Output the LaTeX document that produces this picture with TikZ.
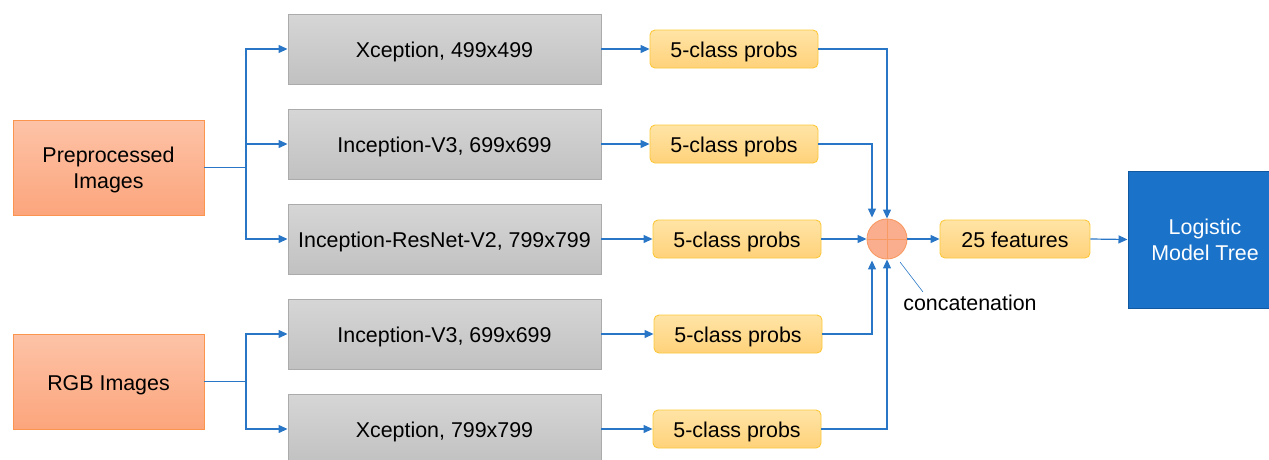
\documentclass[tikz,border=0pt]{standalone}
\usepackage{fontspec}
\setmainfont{Liberation Sans}
\usetikzlibrary{arrows.meta,calc}
\definecolor{arrowblue}{HTML}{2A76C6}
\definecolor{graytop}{HTML}{D6D6D6}
\definecolor{graybot}{HTML}{C1C1C1}
\definecolor{grayline}{HTML}{ABABAB}
\definecolor{orgtop}{HTML}{FDC3A7}
\definecolor{orgbot}{HTML}{FCA57C}
\definecolor{orgline}{HTML}{FB944E}
\definecolor{yeltop}{HTML}{FFE4A6}
\definecolor{yelbot}{HTML}{FFD27A}
\definecolor{yelline}{HTML}{FCC83A}
\definecolor{lmtfill}{HTML}{1A72C9}
\definecolor{lmtline}{HTML}{10589F}
\definecolor{circfill}{HTML}{FBAE8D}
\definecolor{circline}{HTML}{F79A63}
\tikzset{
  every node/.style={font=\fontsize{21.4}{26}\selectfont, inner sep=0pt, align=center},
  oneline/.style={text height=18.7pt, text depth=1.3pt},
  twoline/.style={text height=43pt, text depth=1pt},
  gbox/.style={oneline, draw=grayline, line width=0.9pt, top color=graytop, bottom color=graybot, minimum width=313pt, minimum height=70pt},
  obox/.style={draw=orgline, line width=0.9pt, top color=orgtop, bottom color=orgbot, minimum width=191pt, minimum height=95pt},
  ybox/.style={oneline, draw=yelline, line width=0.9pt, top color=yeltop, bottom color=yelbot, rounded corners=5pt, minimum width=168pt, minimum height=38pt},
  fbox/.style={ybox, minimum width=150pt},
  lmtbox/.style={twoline, draw=lmtline, line width=1pt, fill=lmtfill, text=white, minimum width=154pt, minimum height=137pt},
  conn/.style={draw=arrowblue, line width=1.2pt},
  arr/.style={conn, -{Triangle[length=9pt,width=8pt]}},
}
\begin{document}
\begin{tikzpicture}[x=1pt,y=-1pt]
\useasboundingbox (0,0) rectangle (1269,459);
% source boxes
\node[obox, twoline] (pre) at (108.5,167.5) {Preprocessed\\Images};
\node[obox, oneline] (rgb) at (108.5,381.5) {RGB Images};
% CNN boxes
\node[gbox] (g1) at (444.5,49) {Xception, 499x499};
\node[gbox] (g2) at (444.5,144) {Inception-V3, 699x699};
\node[gbox] (g3) at (444.5,239) {Inception-ResNet-V2, 799x799};
\node[gbox] (g4) at (444.5,334) {Inception-V3, 699x699};
\node[gbox] (g5) at (444.5,429) {Xception, 799x799};
% probability boxes
\node[ybox] (y1) at (734,49) {5-class probs};
\node[ybox] (y2) at (734,144) {5-class probs};
\node[ybox] (y3) at (737,239) {5-class probs};
\node[ybox] (y4) at (738,334) {5-class probs};
\node[ybox] (y5) at (737,429) {5-class probs};
% concatenation
\node[circle, draw=circline, fill=circfill, line width=0.9pt, minimum size=40pt] (c) at (887,239) {};
\draw[circline, line width=0.6pt] (c.north) -- (c.south) (c.west) -- (c.east);
\node[fbox] (f) at (1015,239) {25 features};
\node[lmtbox] (lmt) at (1205,239.5) {Logistic\\Model Tree};
\node (concat) at (970,303) {concatenation};
% junctions
\coordinate (j1) at (246,167.5);
\coordinate (j2) at (246,381.5);
\draw[conn] (pre.east) -- (j1);
\draw[arr] (j1) |- (g1.west);
\draw[arr] (j1) |- (g2.west);
\draw[arr] (j1) |- (g3.west);
\draw[conn] (rgb.east) -- (j2);
\draw[arr] (j2) |- (g4.west);
\draw[arr] (j2) |- (g5.west);
% CNN to probs
\draw[arr] (g1.east) -- (y1.west);
\draw[arr] (g2.east) -- (y2.west);
\draw[arr] (g3.east) -- (y3.west);
\draw[arr] (g4.east) -- (y4.west);
\draw[arr] (g5.east) -- (y5.west);
% probs to concatenation
\coordinate (cn2) at ($(c.north)+(-15,-1)$);
\coordinate (cs4) at ($(c.south)+(-15,1)$);
\draw[arr] (y1.east) -| (c.north);
\draw[arr] (y2.east) -| (cn2);
\draw[arr] (y3.east) -- (c.west);
\draw[arr] (y4.east) -| (cs4);
\draw[arr] (y5.east) -| (c.south);
% to output
\draw[arr] (c.east) -- (f.west);
\draw[arr] (f.east) -- (lmt.west);
% label leader
\coordinate (l1) at (900,262);
\coordinate (l2) at (923,292);
\draw[arrowblue, line width=0.6pt] (l1) -- (l2);
\end{tikzpicture}
\end{document}
